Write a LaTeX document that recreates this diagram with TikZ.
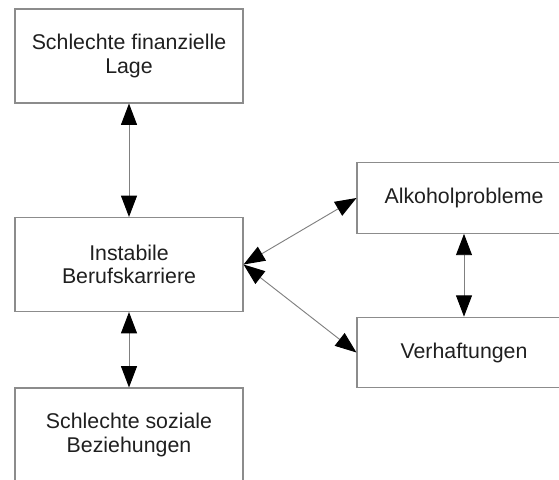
\documentclass[tikz,border=0pt]{standalone}
\usepackage{fontspec}
\setmainfont{Liberation Sans}
\usepackage{tikz}
\usetikzlibrary{arrows.meta}

\tikzset{
  kasten/.style={draw=black!45, line width=0.8pt, rectangle, inner sep=0pt,
    align=center, text=black!88, font=\fontsize{16}{17.5}\selectfont},
  links/.style={kasten, minimum width=171pt, minimum height=70.5pt},
  rechts/.style={kasten, minimum width=160.5pt, minimum height=53pt},
  pfeil/.style={draw=black!50, line width=0.7pt,
    {Triangle[length=16pt,width=12pt,black]}-{Triangle[length=16pt,width=12pt,black]}}
}

\begin{document}
\begin{tikzpicture}[x=0.75pt,y=-0.75pt]
            \useasboundingbox (0,0) rectangle (559,479);
            \clip (0,0) rectangle (559,479);

            \node[links] (finanz) at (129,56) {Schlechte finanzielle\\Lage};
            \node[links] (beruf) at (129,264.5) {Instabile\\Berufskarriere};
            \node[links] (sozial) at (129,435) {Schlechte soziale\\Beziehungen};
            \node[rechts] (alkohol) at (464,198) {Alkoholprobleme};
            \node[rechts] (haft) at (464,352.5) {Verhaftungen};

            \draw[pfeil] (finanz.south) -- (beruf.north);
            \draw[pfeil] (beruf.south) -- (sozial.north);
            \draw[pfeil] (beruf.east) -- (alkohol.west);
            \draw[pfeil] (beruf.east) -- (haft.west);
            \draw[pfeil] (alkohol.south) -- (haft.north);
        \end{tikzpicture}
\end{document}
